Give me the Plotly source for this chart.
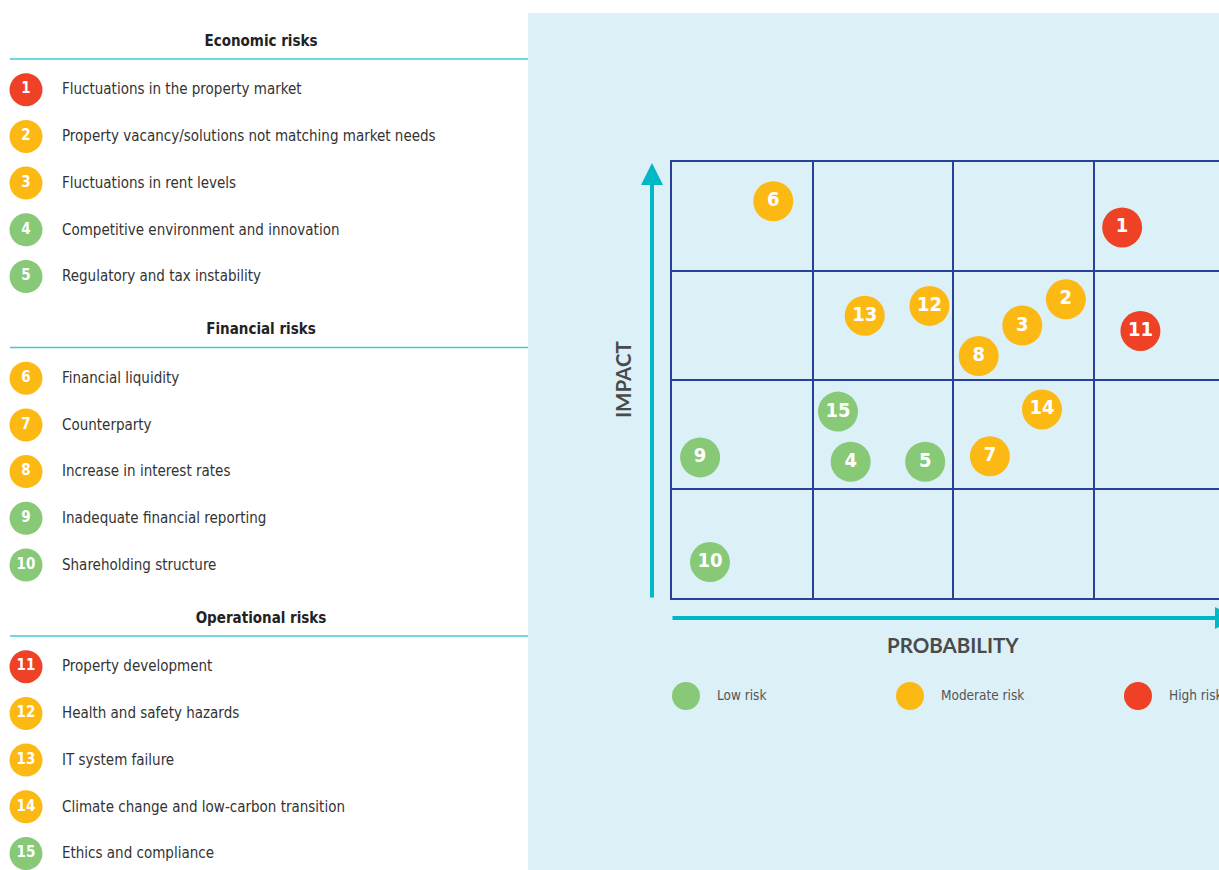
import plotly.graph_objects as go

# Risk register
risk_ids = list(range(1, 16))
risk_names = [
    "Fluctuations in the property market",
    "Property vacancy/solutions not matching market needs",
    "Fluctuations in rent levels",
    "Competitive environment and innovation",
    "Regulatory and tax instability",
    "Financial liquidity",
    "Counterparty",
    "Increase in interest rates",
    "Inadequate financial reporting",
    "Shareholding structure",
    "Property development",
    "Health and safety hazards",
    "IT system failure",
    "Climate change and low-carbon transition",
    "Ethics and compliance",
]
group_names = ["Economic risks", "Financial risks", "Operational risks"]
risk_group = [0, 0, 0, 0, 0, 1, 1, 1, 1, 1, 2, 2, 2, 2, 2]
risk_level = ["High", "Moderate", "Moderate", "Low", "Low",
              "Moderate", "Moderate", "Moderate", "Low", "Low",
              "High", "Moderate", "Moderate", "Moderate", "Low"]

# Position on the heat map (grid units, 0-4 on each axis)
probability = [3.20, 2.80, 2.49, 1.27, 1.80, 0.72, 2.26, 2.18, 0.20, 0.27, 3.33, 1.83, 1.37, 2.63, 1.18]
impact = [3.40, 2.74, 2.50, 1.25, 1.25, 3.64, 1.30, 2.22, 1.29, 0.33, 2.45, 2.68, 2.59, 1.73, 1.71]

legend_levels = ["Low", "Moderate", "High"]
legend_labels = ["Low risk", "Moderate risk", "High risk"]

level_colors = {"Low": "#88c977", "Moderate": "#fdb913", "High": "#ee4125"}

W, H = 1219, 870
NARROW = "Liberation Sans Narrow, DejaVu Sans Condensed, Arial Narrow, sans-serif"
CYAN = "#00b7c6"
NAVY = "#2a3f98"

# grid geometry (page pixels)
cell_w = 140.67
grid_left, grid_top, grid_bottom = 672, 162, 598

fig = go.Figure()

# ---- heat map bubbles ----
fig.add_trace(go.Scatter(
    x=probability, y=impact,
    mode="markers+text",
    text=[str(i) for i in risk_ids],
    marker=dict(size=40, color=[level_colors[l] for l in risk_level], line=dict(width=0)),
    textfont=dict(family=NARROW, size=20, color="white", weight="bold"),
    textposition="middle center",
    hoverinfo="skip", showlegend=False,
    xaxis="x", yaxis="y", cliponaxis=False,
))

# ---- left hand list (page pixel axes) ----
header_y = [41 + 288.5 * g for g in range(len(group_names))]
item_y = []
counts = [0, 0, 0]
for g in risk_group:
    item_y.append(header_y[g] + 48.7 + 46.7 * counts[g])
    counts[g] += 1

fig.add_trace(go.Scatter(
    x=[26] * len(risk_ids), y=item_y,
    mode="markers+text",
    text=[str(i) for i in risk_ids],
    marker=dict(size=33, color=[level_colors[l] for l in risk_level], line=dict(width=0)),
    textfont=dict(family=NARROW, size=15, color="white", weight="bold"),
    textposition="middle center",
    hoverinfo="skip", showlegend=False,
    xaxis="x2", yaxis="y2", cliponaxis=False,
))
fig.add_trace(go.Scatter(
    x=[62] * len(risk_names), y=[y + 1 for y in item_y],
    mode="text",
    text=risk_names,
    textfont=dict(family=NARROW, size=15, color="#333333"),
    textposition="middle right",
    hoverinfo="skip", showlegend=False,
    xaxis="x2", yaxis="y2", cliponaxis=False,
))
fig.add_trace(go.Scatter(
    x=[261] * len(group_names), y=[y + 1 for y in header_y],
    mode="text",
    text=group_names,
    textfont=dict(family=NARROW, size=15, color="#222222", weight="bold"),
    textposition="middle center",
    hoverinfo="skip", showlegend=False,
    xaxis="x2", yaxis="y2", cliponaxis=False,
))

# ---- legend under the map ----
legend_x = [686, 910, 1138]
fig.add_trace(go.Scatter(
    x=legend_x, y=[696] * 3,
    mode="markers",
    marker=dict(size=28, color=[level_colors[l] for l in legend_levels], line=dict(width=0)),
    hoverinfo="skip", showlegend=False,
    xaxis="x2", yaxis="y2", cliponaxis=False,
))
fig.add_trace(go.Scatter(
    x=[x + 31 for x in legend_x], y=[697] * 3,
    mode="text",
    text=legend_labels,
    textfont=dict(family=NARROW, size=13.5, color="#555555"),
    textposition="middle right",
    hoverinfo="skip", showlegend=False,
    xaxis="x2", yaxis="y2", cliponaxis=False,
))

shapes = [
    # light blue panel, paper referenced so it sits under every subplot
    dict(type="rect", xref="paper", yref="paper", x0=528 / W, x1=1.02,
         y0=-0.02, y1=1 - 13 / H,
         fillcolor="#dcf0f7", line=dict(width=0), layer="below"),
]
# cyan rules under the group headers
for hy in header_y:
    shapes.append(dict(type="line", xref="x2", yref="y2", x0=10, x1=528, y0=hy + 18, y1=hy + 18,
                       line=dict(color="#3ccad8", width=1.5)))

annotations = [
    # axis arrows
    dict(xref="x2", yref="y2", axref="x2", ayref="y2", x=652, y=163, ax=652, ay=599,
         showarrow=True, arrowhead=2, arrowsize=1.1, arrowwidth=4, arrowcolor=CYAN, text=""),
    dict(xref="x2", yref="y2", axref="x2", ayref="y2", x=1237, y=618, ax=671, ay=618,
         showarrow=True, arrowhead=2, arrowsize=1.1, arrowwidth=4, arrowcolor=CYAN, text=""),
    dict(xref="x2", yref="y2", x=623, y=380, text="IMPACT", showarrow=False, textangle=-90,
         font=dict(family="Lato, Open Sans, sans-serif", size=20.5, color="#4a4a4a", weight="bold")),
    dict(xref="x2", yref="y2", x=953, y=645, text="PROBABILITY", showarrow=False,
         font=dict(family="Lato, Open Sans, sans-serif", size=20.5, color="#4a4a4a", weight="bold")),
]

fig.update_layout(
    width=W, height=H,
    margin=dict(l=0, r=0, t=0, b=0, pad=0),
    paper_bgcolor="white", plot_bgcolor="rgba(0,0,0,0)",
    xaxis=dict(domain=[grid_left / W, 1], range=[0, (W - grid_left) / cell_w],
               tickvals=[1, 2, 3], showticklabels=False, ticks="",
               showgrid=True, gridcolor=NAVY, gridwidth=2, zeroline=False,
               showline=True, linecolor=NAVY, linewidth=2, mirror=True, fixedrange=True),
    yaxis=dict(domain=[1 - grid_bottom / H, 1 - grid_top / H], range=[0, 4],
               tickvals=[1, 2, 3], showticklabels=False, ticks="",
               showgrid=True, gridcolor=NAVY, gridwidth=2, zeroline=False,
               showline=True, linecolor=NAVY, linewidth=2, mirror=False, fixedrange=True),
    xaxis2=dict(domain=[0, 1], range=[0, W], visible=False, fixedrange=True, anchor="y2"),
    yaxis2=dict(domain=[0, 1], range=[H, 0], visible=False, fixedrange=True, anchor="x2"),
    shapes=shapes,
    annotations=annotations,
)

# drop the default page margin so the figure fills the window
fig.write_html("out.html", config={"displayModeBar": False},
               post_script="document.body.style.margin='0px';document.body.style.overflow='hidden';")
